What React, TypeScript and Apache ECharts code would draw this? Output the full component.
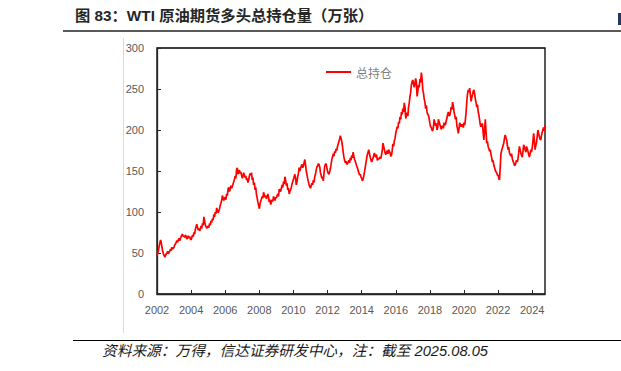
import React, { useEffect, useRef } from "react";
import * as echarts from "echarts";

const TITLE = "图 83：WTI 原油期货多头总持仓量（万张）";
const FOOTER = "资料来源：万得，信达证券研发中心，注：截至 2025.08.05";
const SERIES_NAME = "总持仓";
const START_YEAR = 2002;
const STEPS_PER_YEAR = 24;
const X_MIN = 2002;
const X_MAX = 2024.75;
const Y_TICKS = [0, 50, 100, 150, 200, 250, 300];

// half-monthly long open interest (10k contracts)
const v2002 = [46, 50, 53, 58, 62, 66, 63, 57, 52, 49, 47, 45, 47, 49, 50, 52, 49, 51, 52, 55, 53, 57, 55, 56];
const v2003 = [57, 60, 61, 63, 65, 63, 66, 68, 65, 68, 70, 72, 73, 70, 71, 69, 72, 70, 67, 69, 71, 68, 70, 67];
const v2004 = [66, 69, 72, 70, 75, 73, 79, 82, 85, 81, 78, 80, 77, 79, 83, 80, 86, 84, 94, 89, 84, 82, 80, 82];
const v2005 = [83, 81, 86, 84, 89, 87, 92, 90, 97, 94, 100, 98, 105, 102, 99, 101, 104, 108, 111, 114, 120, 117, 114, 117];
const v2006 = [118, 115, 122, 120, 128, 130, 125, 128, 132, 129, 131, 134, 137, 140, 144, 141, 152, 154, 146, 149, 151, 147, 149, 145];
const v2007 = [141, 144, 148, 145, 142, 144, 139, 141, 136, 139, 144, 147, 145, 148, 139, 142, 133, 136, 127, 130, 121, 117, 112, 108];
const v2008 = [104, 110, 113, 116, 119, 117, 124, 121, 118, 120, 116, 119, 122, 118, 112, 115, 109, 112, 115, 113, 119, 116, 114, 118];
const v2009 = [117, 120, 122, 119, 128, 126, 125, 129, 133, 130, 137, 134, 143, 139, 132, 135, 127, 129, 122, 125, 127, 130, 134, 137];
const v2010 = [140, 143, 146, 141, 133, 137, 143, 147, 154, 150, 153, 156, 158, 154, 156, 160, 164, 158, 150, 146, 141, 137, 133, 131];
const v2011 = [129, 132, 135, 133, 139, 136, 143, 146, 151, 155, 156, 159, 158, 155, 148, 145, 141, 143, 138, 147, 156, 158, 159, 154];
const v2012 = [150, 147, 146, 149, 153, 158, 164, 167, 171, 168, 174, 172, 177, 175, 180, 183, 186, 189, 193, 190, 186, 180, 173, 167];
const v2013 = [163, 160, 162, 158, 159, 161, 163, 160, 166, 163, 169, 166, 173, 168, 164, 162, 159, 156, 154, 151, 148, 145, 146, 143];
const v2014 = [141, 138, 140, 144, 149, 154, 160, 165, 170, 173, 176, 171, 167, 164, 161, 163, 166, 169, 172, 168, 167, 170, 163, 165];
const v2015 = [164, 166, 167, 165, 170, 175, 184, 180, 176, 172, 170, 173, 175, 171, 176, 174, 172, 168, 169, 175, 183, 180, 187, 190];
const v2016 = [196, 200, 204, 202, 210, 208, 216, 213, 222, 219, 226, 222, 233, 228, 214, 218, 221, 217, 228, 233, 241, 246, 255, 259];
const v2017 = [261, 256, 252, 257, 263, 258, 241, 247, 255, 252, 262, 258, 270, 263, 249, 245, 238, 234, 226, 230, 222, 219, 218, 214];
const v2018 = [208, 204, 203, 200, 199, 204, 213, 209, 205, 208, 200, 203, 213, 210, 207, 204, 201, 204, 205, 202, 209, 206, 207, 211];
const v2019 = [215, 219, 222, 217, 218, 222, 228, 225, 234, 229, 222, 218, 213, 216, 205, 201, 196, 202, 209, 206, 204, 207, 206, 203];
const v2020 = [209, 206, 213, 222, 236, 244, 249, 246, 251, 243, 235, 240, 243, 247, 249, 244, 238, 233, 228, 231, 222, 218, 212, 206];
const v2021 = [204, 207, 208, 196, 188, 200, 213, 198, 184, 186, 180, 177, 174, 176, 170, 166, 161, 163, 157, 154, 151, 149, 148, 145];
const v2022 = [145, 141, 139, 155, 171, 175, 178, 181, 184, 190, 194, 191, 188, 182, 176, 179, 172, 170, 168, 171, 165, 162, 160, 157];
const v2023 = [157, 160, 163, 161, 165, 172, 180, 176, 172, 169, 167, 174, 182, 179, 176, 173, 180, 177, 174, 170, 167, 171, 176, 173];
const v2024 = [178, 186, 196, 188, 176, 181, 184, 192, 200, 196, 192, 189, 188, 193, 197, 200, 203, 199, 206];

const YEARS = [
  v2002, v2003, v2004, v2005, v2006, v2007, v2008, v2009, v2010, v2011, v2012, v2013,
  v2014, v2015, v2016, v2017, v2018, v2019, v2020, v2021, v2022, v2023, v2024,
];

export default function App() {
  const ref = useRef<HTMLDivElement>(null);
  useEffect(() => {
    if (!ref.current) return;
    const chart = echarts.init(ref.current, null, { renderer: "svg" });
    const data: [number, number][] = [];
    YEARS.forEach((arr, yi) => {
      arr.forEach((v, si) => {
        data.push([START_YEAR + yi + si / STEPS_PER_YEAR, v]);
      });
    });
    const axisColor = "#262626";
    const labelColor = "#595959";
    chart.setOption({
      animation: false,
      backgroundColor: "#ffffff",
      grid: {
        left: 157,
        top: 48,
        width: 388,
        height: 246,
        show: true,
        borderColor: "#000000",
        borderWidth: 1.3,
        containLabel: false,
      },
      legend: {
        data: [{ name: SERIES_NAME, icon: "rect" }],
        left: 321,
        top: 61,
        itemWidth: 25,
        itemHeight: 2,
        itemGap: 4,
        textStyle: {
          color: "#7f7f7f",
          fontSize: 12,
          fontFamily: "Noto Sans CJK SC",
        },
      },
      xAxis: {
        type: "value",
        min: X_MIN,
        max: X_MAX,
        interval: 2,
        axisLine: { show: true, lineStyle: { color: axisColor, width: 1.3 } },
        axisTick: { show: true, inside: true, length: 4, lineStyle: { color: axisColor } },
        splitLine: { show: false },
        axisLabel: {
          color: labelColor,
          fontSize: 11,
          fontFamily: "Liberation Sans, Arial, sans-serif",
          margin: 10,
          showMaxLabel: false,
          formatter: (v: number) =>
            Math.abs(v - Math.round(v)) < 1e-6 && Math.round(v) % 2 === 0 ? String(Math.round(v)) : "",
        },
      },
      yAxis: {
        type: "value",
        min: Y_TICKS[0],
        max: Y_TICKS[Y_TICKS.length - 1],
        interval: 50,
        axisLine: { show: true, lineStyle: { color: axisColor, width: 1.3 } },
        axisTick: { show: true, inside: true, length: 4, lineStyle: { color: axisColor } },
        splitLine: { show: false },
        axisLabel: {
          color: labelColor,
          fontSize: 11,
          fontFamily: "Liberation Sans, Arial, sans-serif",
          margin: 13,
        },
      },
      series: [
        {
          name: SERIES_NAME,
          type: "line",
          data,
          symbol: "none",
          showSymbol: false,
          lineStyle: { color: "#ff0000", width: 1.7 },
          itemStyle: { color: "#ff0000" },
        },
      ],
      graphic: [
        {
          type: "text",
          left: 75,
          top: 8,
          style: {
            text: TITLE,
            fill: "#262626",
            fontSize: 15.3,
            fontWeight: "bold",
            fontFamily: "Liberation Sans, Noto Sans CJK SC, sans-serif",
          },
        },
        {
          type: "rect",
          shape: { x: 618, y: 13, width: 3, height: 12 },
          style: { fill: "#1f3864" },
        },
        {
          type: "line",
          shape: { x1: 63, y1: 31, x2: 621, y2: 31 },
          style: { stroke: "#595959", lineWidth: 2 },
        },
        {
          type: "line",
          shape: { x1: 123.5, y1: 38, x2: 123.5, y2: 333 },
          style: { stroke: "#d9d9d9", lineWidth: 1 },
        },
        {
          type: "line",
          shape: { x1: 73, y1: 340.5, x2: 621, y2: 340.5 },
          style: { stroke: "#000000", lineWidth: 1 },
        },
        {
          type: "text",
          left: 102,
          top: 344,
          style: {
            text: FOOTER,
            fill: "#1a1a1a",
            fontSize: 14.7,
            fontStyle: "italic",
            fontFamily: "Liberation Sans, Noto Sans CJK SC, sans-serif",
          },
        },
      ],
    });
    return () => chart.dispose();
  }, []);
  return (
    <div
      ref={ref}
      style={{ position: "fixed", left: 0, top: 0, width: 621, height: 371, background: "#fff" }}
    />
  );
}
